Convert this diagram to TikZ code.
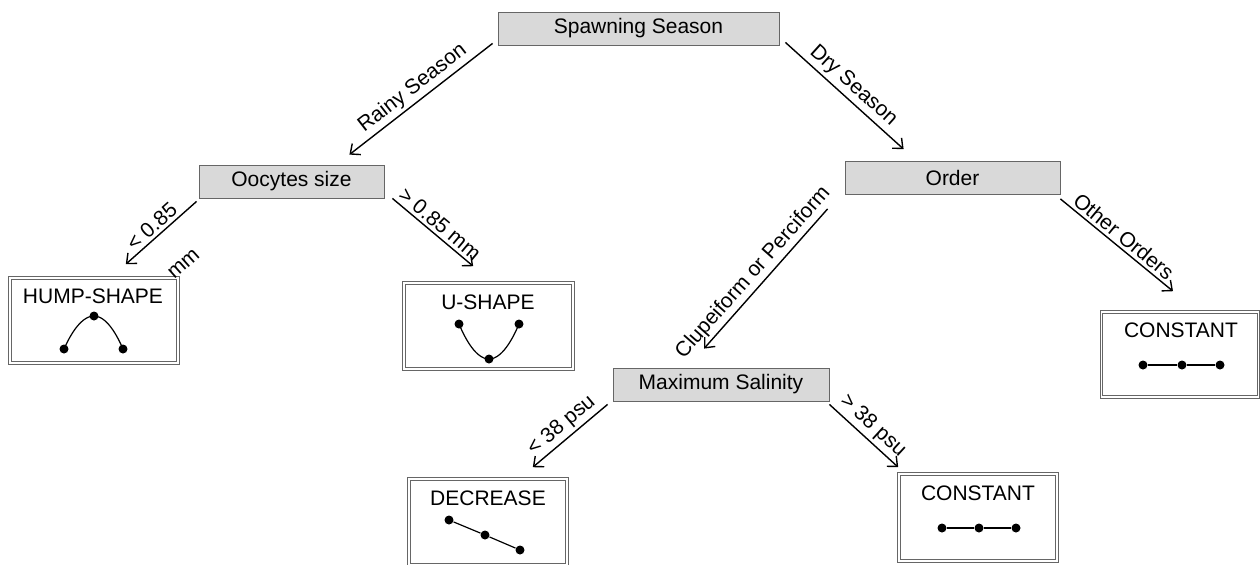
\documentclass[tikz,border=0pt]{standalone}
\usepackage{fontspec}
\setmainfont{Liberation Sans}
\usetikzlibrary{arrows.meta}
\tikzset{
	split/.style={draw=black!60,fill=black!15,minimum height=16.5pt,inner sep=0pt},
	leaf/.style={draw=black!60,line width=1.8pt,inner sep=0pt,postaction={draw=white,line width=0.6pt}},
	branch/.style={-{Straight Barb[length=4pt,width=7pt]},line width=0.7pt},
	cond/.style={sloped,above,inner sep=1.5pt},
	dot/.style={circle,fill,inner sep=0pt,minimum size=4.5pt},
	trend/.style={line width=0.6pt}
}
\begin{document}
\begin{tikzpicture}[x=0.5pt,y=-0.5pt,font=\fontsize{10.5}{12.6}\selectfont]
			\useasboundingbox (0,0) rectangle (1260,564);
			\node[split,minimum width=140.5pt] (spawn) at (638.5,28.5) {Spawning Season};
			\node[split,minimum width=92.5pt] (ooc) at (291.5,181.5) {Oocytes size};
			\node[split,minimum width=107.5pt] (order) at (952.5,178) {Order};
			\node[split,minimum width=108pt] (maxsal) at (721,384.5) {Maximum Salinity};
			
			\node[leaf,minimum width=84pt,minimum height=42.5pt] (hump) at (94,320.5) {};
			\node[leaf,minimum width=84.5pt,minimum height=43pt] (ushape) at (488.5,326) {};
			\node[leaf,minimum width=79pt,minimum height=43pt] (decr) at (488,522) {};
			\node[leaf,minimum width=78.5pt,minimum height=42.5pt] (const1) at (1180,354.5) {};
			\node[leaf,minimum width=79pt,minimum height=43.5pt] (const2) at (978,517.5) {};
			
			\node (humpname) at (93,296) {HUMP-SHAPE};
			\node (uname) at (488,302) {U-SHAPE};
			\node (decrname) at (488,498) {DECREASE};
			\node (const1name) at (1181,330) {CONSTANT};
			\node (const2name) at (978,493) {CONSTANT};
			
			\node[dot] (h1) at (64,349) {};
			\node[dot] (h2) at (94,316) {};
			\node[dot] (h3) at (123,349) {};
			\draw[trend] (h1.center) parabola bend (h2.center) (h3.center);
			\node[dot] (u1) at (459,324) {};
			\node[dot] (u2) at (489,359) {};
			\node[dot] (u3) at (519,324) {};
			\draw[trend] (u1.center) parabola bend (u2.center) (u3.center);
			\node[dot] (d1) at (449,520) {};
			\node[dot] (d2) at (485,535) {};
			\node[dot] (d3) at (520,550) {};
			\draw[trend] (d1) -- (d2) -- (d3);
			\node[dot] (c1) at (1143,365) {};
			\node[dot] (c2) at (1182,365) {};
			\node[dot] (c3) at (1220,365) {};
			\draw[trend] (c1) -- (c2) -- (c3);
			\node[dot] (k1) at (942,528) {};
			\node[dot] (k2) at (979,528) {};
			\node[dot] (k3) at (1016,528) {};
			\draw[trend] (k1) -- (k2) -- (k3);
			
			\draw[branch] ([shift={(-5,-2)}]spawn.south west) -- node[cond] {Rainy Season} ([shift={(-35,-10)}]ooc.north east);
			\draw[branch] ([shift={(6,-3)}]spawn.south east) -- node[cond] {Dry Season} ([shift={(59,-12)}]order.north west);
			\draw[branch] ([shift={(-2,3)}]ooc.south west) -- node[cond,pos=0.53] {< 0.85} node[cond,pos=0.54,below=14.5pt] {mm} ([shift={(-54,-12)}]hump.north east);
			\draw[branch] ([shift={(8,0)}]ooc.south east) -- node[cond] {> 0.85 mm} ([shift={(71,-15)}]ushape.north west);
			\draw[branch] ([shift={(-17,14)}]order.south west) -- node[cond,pos=0.52] {Clupeiform or Perciform} ([shift={(-17,-19)}]maxsal.north);
			\draw[branch] ([shift={(0,4)}]order.south east) -- node[cond] {Other Orders} ([shift={(-7,-19)}]const1.north);
			\draw[branch] ([shift={(-5,3)}]maxsal.south west) -- node[cond] {< 38 psu} ([shift={(-36,-10)}]decr.north east);
			\draw[branch] ([shift={(0,3)}]maxsal.south east) -- node[cond] {> 38 psu} ([shift={(1,-5)}]const2.north west);
		\end{tikzpicture}
\end{document}
